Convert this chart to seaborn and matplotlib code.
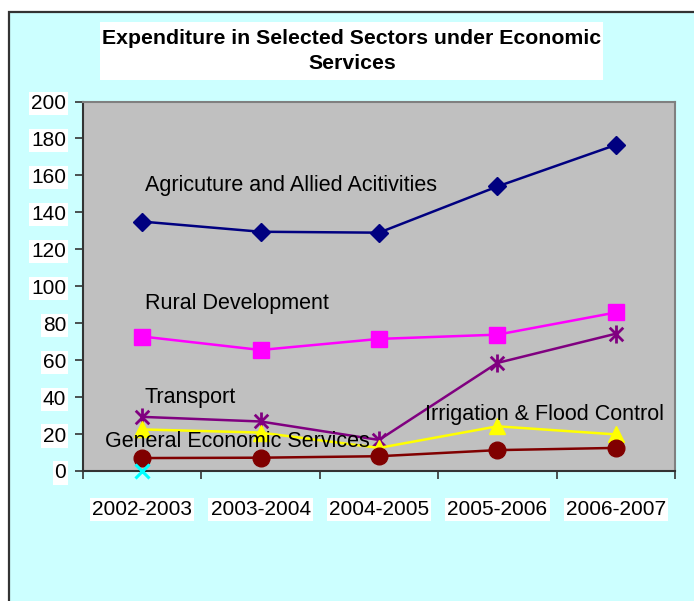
import numpy as np
import matplotlib
matplotlib.use("Agg")
import matplotlib.pyplot as plt
from matplotlib.patches import Rectangle
from matplotlib.path import Path
import seaborn as sns

years = ["2002-2003", "2003-2004", "2004-2005", "2005-2006", "2006-2007"]
agriculture = [135, 129.5, 129, 154, 176.5]
rural_dev = [72.8, 65.5, 71.5, 73.8, 85.8]
transport = [29.3, 26.8, 16.8, 58.5, 74.3]
irrigation = [22.5, 20.8, 12.5, 24.2, 19.8]
general_econ = [7.0, 7.2, 8.0, 11.3, 12.5]
other = [0.0]
other_years = ["2002-2003"]
y_ticks = list(range(0, 201, 20))

sns.set_theme(style="white")
plt.rcParams["font.family"] = ["Liberation Sans", "DejaVu Sans"]
plt.rcParams["text.color"] = "black"

W, H = 694, 601
fig = plt.figure(figsize=(W / 100, H / 100), dpi=100)
fig.patch.set_facecolor("white")
fig.patches.append(Rectangle((9 / W, -0.05), 1.1, (601 - 12) / H + 0.05,
                             transform=fig.transFigure, facecolor="#CCFFFF",
                             edgecolor="#333333", lw=1.6, zorder=-2))

ax = fig.add_axes([83 / W, (H - 471) / H, (675 - 83) / W, (471 - 101.5) / H])
ax.set_facecolor("#C0C0C0")

aster = Path([(0, -1), (0, 1), (-0.75, -0.75), (0.75, 0.75), (-0.75, 0.75), (0.75, -0.75)],
             [Path.MOVETO, Path.LINETO, Path.MOVETO, Path.LINETO, Path.MOVETO, Path.LINETO])

series = [
    (agriculture, "#000080", "D", 9, 1),
    (rural_dev, "#FF00FF", "s", 11, 1),
    (transport, "#800080", aster, 13, 2),
    (irrigation, "#FFFF00", "^", 11, 1),
    (general_econ, "#800000", "o", 12, 1),
]
for vals, c, m, ms, mew in series:
    sns.lineplot(x=years, y=vals, ax=ax, color=c, marker=m, markersize=ms,
                 markeredgecolor=c, markerfacecolor=c, markeredgewidth=mew,
                 lw=1.8, sort=False, zorder=3)
sns.lineplot(x=other_years, y=other, ax=ax, color="#00FFFF", marker="x",
             markersize=10, markeredgewidth=2.2, markeredgecolor="#00FFFF",
             lw=0, zorder=4, clip_on=False)

ax.set_xlim(-0.5, 4.5)
ax.set_ylim(0, 200)
ax.set_yticks(y_ticks)
ax.set_xticks(range(len(years)))
ax.set_xticklabels(years)
ax.set_xticks(np.arange(-0.5, 5, 1), minor=True)
ax.tick_params(axis="x", which="major", length=0, pad=21, labelsize=15, labelcolor="black")
ax.tick_params(axis="x", which="minor", length=6, width=1.2, color="#333333", direction="out", bottom=True)
ax.tick_params(axis="y", which="major", length=6, width=1.2, color="#333333", direction="out",
               left=True, pad=6, labelsize=15, labelcolor="black")
for lbl in ax.get_xticklabels() + ax.get_yticklabels():
    lbl.set_bbox(dict(facecolor="white", edgecolor="none", pad=1.5))
ax.set_xlabel("")
ax.set_ylabel("")
for s in ["left", "bottom"]:
    ax.spines[s].set_color("#333333")
    ax.spines[s].set_linewidth(1.5)
for s in ["top", "right"]:
    ax.spines[s].set_color("#808080")
    ax.spines[s].set_linewidth(1.5)
ax.grid(False)

fs = 15.5
ax.text(0.02, 154.5, "Agricuture and Allied Acitivities", fontsize=fs, va="center", ha="left", zorder=5)
ax.text(0.02, 90.5, "Rural Development", fontsize=fs, va="center", ha="left", zorder=5)
ax.text(0.02, 40, "Transport", fontsize=fs, va="center", ha="left", zorder=5)
ax.text(2.39, 30.5, "Irrigation & Flood Control", fontsize=fs, va="center", ha="left", zorder=5)
ax.text(-0.31, 16, "General Economic Services", fontsize=fs, va="center", ha="left", zorder=5)

fig.patches.append(Rectangle((100 / W, 1 - 80 / H), 503 / W, 58 / H, transform=fig.transFigure,
                             facecolor="white", edgecolor="none", zorder=1))
fig.text(352 / W, 1 - 51 / H, "Expenditure in Selected Sectors under Economic\nServices",
         ha="center", va="center", fontsize=15.3, fontweight="bold", linespacing=1.45, zorder=2)

fig.savefig("out.png", dpi=100, facecolor=fig.get_facecolor())
